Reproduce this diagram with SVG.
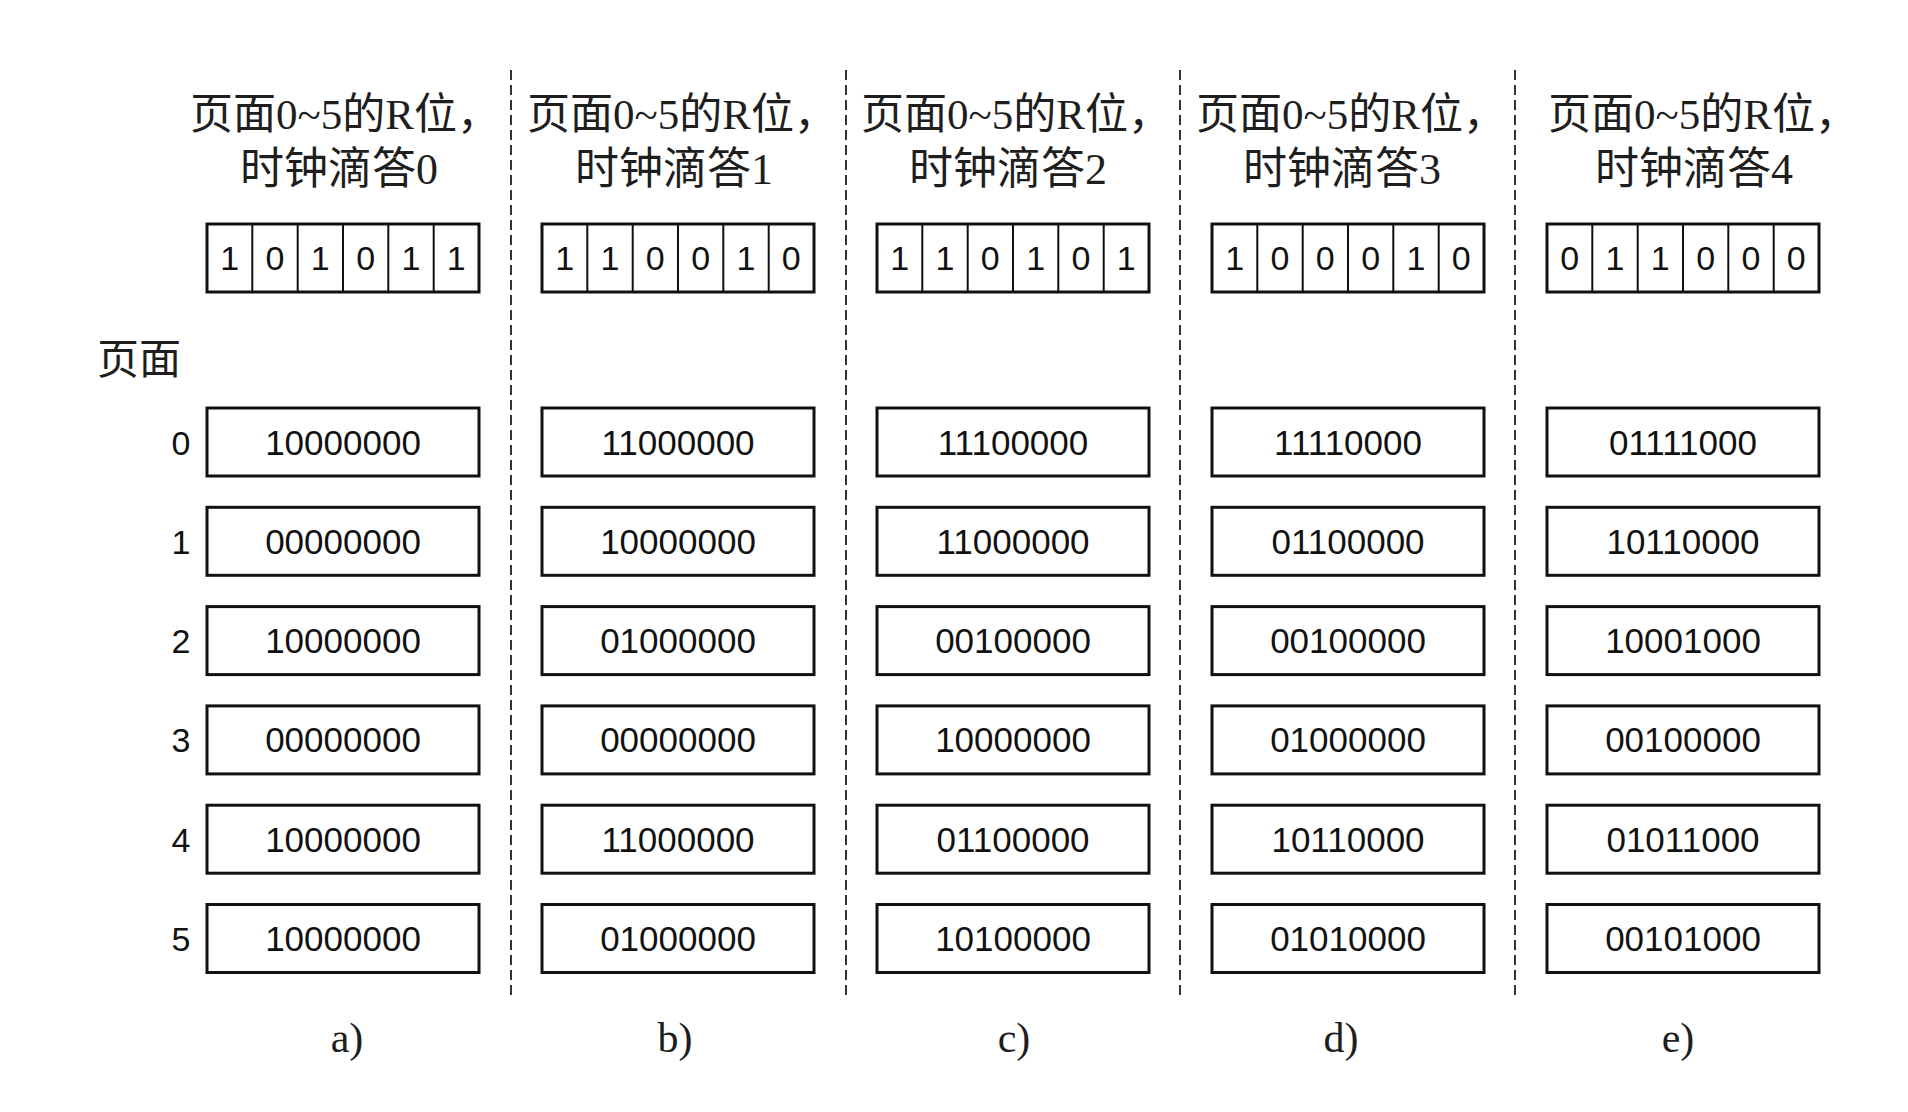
<svg xmlns="http://www.w3.org/2000/svg" width="1908" height="1112" viewBox="0 0 1908 1112">
<style>
.title{font-family:"Liberation Serif","Noto Sans CJK SC",serif;font-size:44px;fill:#1e1e1e;text-anchor:middle}
.t1{font-size:43px}
.cap{font-family:"Liberation Serif","Noto Sans CJK SC",serif;font-size:42px;fill:#1e1e1e;text-anchor:middle}
.pg{font-family:"Liberation Serif","Noto Sans CJK SC",serif;font-size:42px;fill:#1e1e1e}
.bit{font-family:"Liberation Sans",Arial,sans-serif;font-size:34px;fill:#111;text-anchor:middle}
.val{font-family:"Liberation Sans",Arial,sans-serif;font-size:35px;fill:#111;text-anchor:middle}
.idx{font-family:"Liberation Sans",Arial,sans-serif;font-size:34px;fill:#111;text-anchor:middle}
.box{fill:#fff;stroke:#111;stroke-width:3}
.div{stroke:#111;stroke-width:2}
.sep{stroke:#333;stroke-width:2;stroke-dasharray:10 5;fill:none}
</style>
<rect width="1908" height="1112" fill="#fff"/>

<g id="separators">
<line class="sep" x1="511" y1="70" x2="511" y2="995"/>
<line class="sep" x1="846" y1="70" x2="846" y2="995"/>
<line class="sep" x1="1180" y1="70" x2="1180" y2="995"/>
<line class="sep" x1="1515" y1="70" x2="1515" y2="995"/>
</g>

<g id="page-labels">
<text class="pg" x="97" y="374">页面</text>
<text class="idx" x="181" y="454.5">0</text>
<text class="idx" x="181" y="553.8">1</text>
<text class="idx" x="181" y="653.1">2</text>
<text class="idx" x="181" y="752.4">3</text>
<text class="idx" x="181" y="851.7">4</text>
<text class="idx" x="181" y="951">5</text>
</g>

<!-- Column a -->
<g id="col-a">
<g id="title-a"><text class="title t1" x="345" y="129">页面0~5的R位，</text><text class="title" x="339" y="184">时钟滴答0</text></g>
<g id="rbits-a">
<rect class="box" x="207" y="224" width="272" height="68"/>
<path class="div" d="M252.3 224V292M297.7 224V292M343 224V292M388.3 224V292M433.7 224V292"/>
<text class="bit" x="229.7" y="270">1</text><text class="bit" x="275" y="270">0</text><text class="bit" x="320.3" y="270">1</text><text class="bit" x="365.7" y="270">0</text><text class="bit" x="411" y="270">1</text><text class="bit" x="456.3" y="270">1</text>
</g>
<g id="a-p0"><rect class="box" x="207" y="408" width="272" height="68"/><text class="val" x="343" y="454.5">10000000</text></g>
<g id="a-p1"><rect class="box" x="207" y="507.3" width="272" height="68"/><text class="val" x="343" y="553.8">00000000</text></g>
<g id="a-p2"><rect class="box" x="207" y="606.6" width="272" height="68"/><text class="val" x="343" y="653.1">10000000</text></g>
<g id="a-p3"><rect class="box" x="207" y="705.9" width="272" height="68"/><text class="val" x="343" y="752.4">00000000</text></g>
<g id="a-p4"><rect class="box" x="207" y="805.2" width="272" height="68"/><text class="val" x="343" y="851.7">10000000</text></g>
<g id="a-p5"><rect class="box" x="207" y="904.5" width="272" height="68"/><text class="val" x="343" y="951">10000000</text></g>
<text class="cap" x="347" y="1052">a)</text>
</g>

<!-- Column b -->
<g id="col-b">
<g id="title-b"><text class="title t1" x="682" y="129">页面0~5的R位，</text><text class="title" x="674" y="184">时钟滴答1</text></g>
<g id="rbits-b">
<rect class="box" x="542" y="224" width="272" height="68"/>
<path class="div" d="M587.3 224V292M632.7 224V292M678 224V292M723.3 224V292M768.7 224V292"/>
<text class="bit" x="564.7" y="270">1</text><text class="bit" x="610" y="270">1</text><text class="bit" x="655.3" y="270">0</text><text class="bit" x="700.7" y="270">0</text><text class="bit" x="746" y="270">1</text><text class="bit" x="791.3" y="270">0</text>
</g>
<g id="b-p0"><rect class="box" x="542" y="408" width="272" height="68"/><text class="val" x="678" y="454.5">11000000</text></g>
<g id="b-p1"><rect class="box" x="542" y="507.3" width="272" height="68"/><text class="val" x="678" y="553.8">10000000</text></g>
<g id="b-p2"><rect class="box" x="542" y="606.6" width="272" height="68"/><text class="val" x="678" y="653.1">01000000</text></g>
<g id="b-p3"><rect class="box" x="542" y="705.9" width="272" height="68"/><text class="val" x="678" y="752.4">00000000</text></g>
<g id="b-p4"><rect class="box" x="542" y="805.2" width="272" height="68"/><text class="val" x="678" y="851.7">11000000</text></g>
<g id="b-p5"><rect class="box" x="542" y="904.5" width="272" height="68"/><text class="val" x="678" y="951">01000000</text></g>
<text class="cap" x="675" y="1052">b)</text>
</g>

<!-- Column c -->
<g id="col-c">
<g id="title-c"><text class="title t1" x="1016" y="129">页面0~5的R位，</text><text class="title" x="1008" y="184">时钟滴答2</text></g>
<g id="rbits-c">
<rect class="box" x="877" y="224" width="272" height="68"/>
<path class="div" d="M922.3 224V292M967.7 224V292M1013 224V292M1058.3 224V292M1103.7 224V292"/>
<text class="bit" x="899.7" y="270">1</text><text class="bit" x="945" y="270">1</text><text class="bit" x="990.3" y="270">0</text><text class="bit" x="1035.7" y="270">1</text><text class="bit" x="1081" y="270">0</text><text class="bit" x="1126.3" y="270">1</text>
</g>
<g id="c-p0"><rect class="box" x="877" y="408" width="272" height="68"/><text class="val" x="1013" y="454.5">11100000</text></g>
<g id="c-p1"><rect class="box" x="877" y="507.3" width="272" height="68"/><text class="val" x="1013" y="553.8">11000000</text></g>
<g id="c-p2"><rect class="box" x="877" y="606.6" width="272" height="68"/><text class="val" x="1013" y="653.1">00100000</text></g>
<g id="c-p3"><rect class="box" x="877" y="705.9" width="272" height="68"/><text class="val" x="1013" y="752.4">10000000</text></g>
<g id="c-p4"><rect class="box" x="877" y="805.2" width="272" height="68"/><text class="val" x="1013" y="851.7">01100000</text></g>
<g id="c-p5"><rect class="box" x="877" y="904.5" width="272" height="68"/><text class="val" x="1013" y="951">10100000</text></g>
<text class="cap" x="1014" y="1052">c)</text>
</g>

<!-- Column d -->
<g id="col-d">
<g id="title-d"><text class="title t1" x="1351" y="129">页面0~5的R位，</text><text class="title" x="1342" y="184">时钟滴答3</text></g>
<g id="rbits-d">
<rect class="box" x="1212" y="224" width="272" height="68"/>
<path class="div" d="M1257.3 224V292M1302.7 224V292M1348 224V292M1393.3 224V292M1438.7 224V292"/>
<text class="bit" x="1234.7" y="270">1</text><text class="bit" x="1280" y="270">0</text><text class="bit" x="1325.3" y="270">0</text><text class="bit" x="1370.7" y="270">0</text><text class="bit" x="1416" y="270">1</text><text class="bit" x="1461.3" y="270">0</text>
</g>
<g id="d-p0"><rect class="box" x="1212" y="408" width="272" height="68"/><text class="val" x="1348" y="454.5">11110000</text></g>
<g id="d-p1"><rect class="box" x="1212" y="507.3" width="272" height="68"/><text class="val" x="1348" y="553.8">01100000</text></g>
<g id="d-p2"><rect class="box" x="1212" y="606.6" width="272" height="68"/><text class="val" x="1348" y="653.1">00100000</text></g>
<g id="d-p3"><rect class="box" x="1212" y="705.9" width="272" height="68"/><text class="val" x="1348" y="752.4">01000000</text></g>
<g id="d-p4"><rect class="box" x="1212" y="805.2" width="272" height="68"/><text class="val" x="1348" y="851.7">10110000</text></g>
<g id="d-p5"><rect class="box" x="1212" y="904.5" width="272" height="68"/><text class="val" x="1348" y="951">01010000</text></g>
<text class="cap" x="1341" y="1052">d)</text>
</g>

<!-- Column e -->
<g id="col-e">
<g id="title-e"><text class="title t1" x="1703" y="129">页面0~5的R位，</text><text class="title" x="1694" y="184">时钟滴答4</text></g>
<g id="rbits-e">
<rect class="box" x="1547" y="224" width="272" height="68"/>
<path class="div" d="M1592.3 224V292M1637.7 224V292M1683 224V292M1728.3 224V292M1773.7 224V292"/>
<text class="bit" x="1569.7" y="270">0</text><text class="bit" x="1615" y="270">1</text><text class="bit" x="1660.3" y="270">1</text><text class="bit" x="1705.7" y="270">0</text><text class="bit" x="1751" y="270">0</text><text class="bit" x="1796.3" y="270">0</text>
</g>
<g id="e-p0"><rect class="box" x="1547" y="408" width="272" height="68"/><text class="val" x="1683" y="454.5">01111000</text></g>
<g id="e-p1"><rect class="box" x="1547" y="507.3" width="272" height="68"/><text class="val" x="1683" y="553.8">10110000</text></g>
<g id="e-p2"><rect class="box" x="1547" y="606.6" width="272" height="68"/><text class="val" x="1683" y="653.1">10001000</text></g>
<g id="e-p3"><rect class="box" x="1547" y="705.9" width="272" height="68"/><text class="val" x="1683" y="752.4">00100000</text></g>
<g id="e-p4"><rect class="box" x="1547" y="805.2" width="272" height="68"/><text class="val" x="1683" y="851.7">01011000</text></g>
<g id="e-p5"><rect class="box" x="1547" y="904.5" width="272" height="68"/><text class="val" x="1683" y="951">00101000</text></g>
<text class="cap" x="1678" y="1052">e)</text>
</g>
</svg>
